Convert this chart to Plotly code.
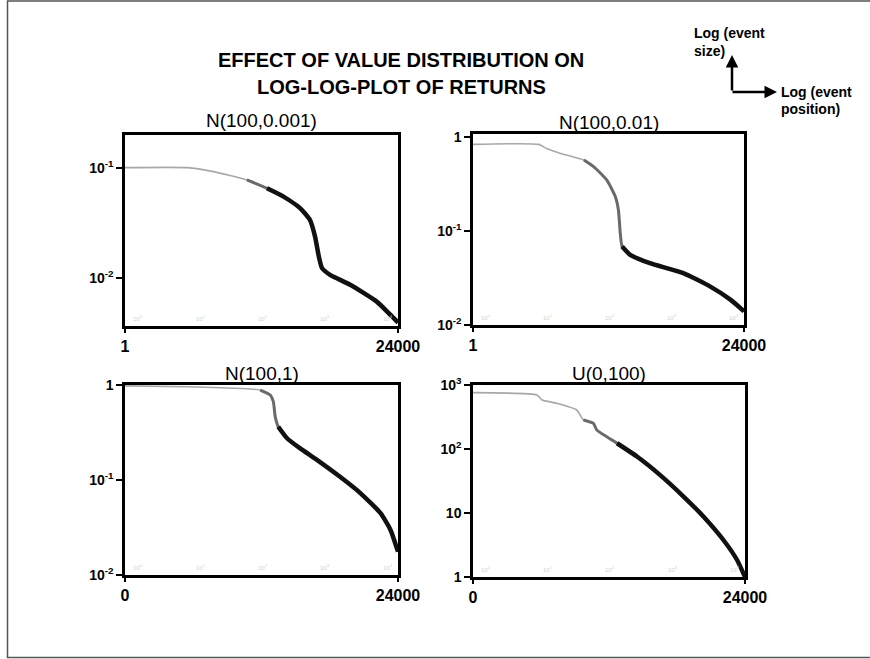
import plotly.graph_objects as go

# ---------------- data ----------------
titles = ["N(100,0.001)", "N(100,0.01)", "N(100,1)", "U(0,100)"]

rank_a = [1, 10, 26, 90, 190, 350, 650, 930, 1120, 1290, 1450, 1950, 4170, 10960, 18200, 24000]
size_a = [0.100, 0.100, 0.092, 0.0773, 0.0649, 0.0545, 0.0427, 0.0334, 0.0236, 0.0155,
          0.0122, 0.0106, 0.00857, 0.00605, 0.00458, 0.0039]

rank_b = [1, 11.5, 15.5, 26, 62, 89, 145, 200, 224, 240, 257, 347, 724, 2510, 6760, 14450, 24000]
size_b = [0.83, 0.83, 0.751, 0.665, 0.566, 0.481, 0.348, 0.231, 0.167, 0.0944, 0.0682,
          0.0557, 0.0454, 0.0356, 0.0257, 0.0186, 0.014]

rank_c = [1, 10, 71, 148, 214, 240, 257, 288, 398, 646, 1200, 2820, 6030, 12600, 18200, 24000]
size_c = [0.98, 0.96, 0.92, 0.885, 0.785, 0.668, 0.465, 0.364, 0.275, 0.215, 0.163,
          0.108, 0.0724, 0.0447, 0.0298, 0.0176]

rank_d = [1, 10.7, 12.9, 22.4, 46.8, 60, 87, 98, 209, 437, 1023, 2455, 5130, 10700, 17800, 24000]
size_d = [759, 698, 583, 518, 407, 284, 252, 199, 123, 76.2, 39.4, 18.1, 8.83, 3.82, 1.86, 1.0]

y_tickvals = [[0.1, 0.01], [1, 0.1, 0.01], [1, 0.1, 0.01], [1000, 100, 10, 1]]
y_ticktext = [["10<sup>-1</sup>", "10<sup>-2</sup>"],
              ["1", "10<sup>-1</sup>", "10<sup>-2</sup>"],
              ["1", "10<sup>-1</sup>", "10<sup>-2</sup>"],
              ["10<sup>3</sup>", "10<sup>2</sup>", "10", "1"]]
x_tickvals = [1, 24000]
x_ticktext = [["1", "24000"], ["1", "24000"], ["0", "24000"], ["0", "24000"]]
minor_labels = ["10<sup>0</sup>", "10<sup>1</sup>", "10<sup>2</sup>", "10<sup>3</sup>", "10<sup>4</sup>"]

# ---------------- styling / layout ----------------
W, H = 870, 659
FONT = "Liberation Sans, Arial, sans-serif"

series = [(rank_a, size_a), (rank_b, size_b), (rank_c, size_c), (rank_d, size_d)]
# where the plotted curve becomes denser (darker / thicker)
medium_from = [90, 62, 148, 60]
dark_from = [190, 257, 288, 209]

# panel boxes in pixels: (left, right, top, bottom)
boxes = [(125, 398, 135, 326), (473, 744, 134, 325), (125, 398, 385, 575), (473, 745, 385, 577)]
y_ranges = [[-2.44, -0.703], [-2.0, 0.029], [-2.0, 0.0], [0.0, 3.0]]
x_range = [0, 4.3802]
title_y = [120, 122, 373, 373]

fig = go.Figure()
layout = dict(
    width=W, height=H, autosize=False,
    margin=dict(l=0, r=0, t=0, b=0, autoexpand=False),
    paper_bgcolor="white", plot_bgcolor="white",
    showlegend=False,
    font=dict(family=FONT, color="black"),
)
annotations = []
shapes = []

for i, ((rk, sz), box) in enumerate(zip(series, boxes)):
    n = i + 1
    xa = "x" if n == 1 else f"x{n}"
    ya = "y" if n == 1 else f"y{n}"
    fig.add_trace(go.Scatter(x=rk, y=sz, mode="lines", xaxis=xa, yaxis=ya,
                             line=dict(color="#a8a8a8", width=1.6, shape="spline",
                                       smoothing=0.5),
                             hoverinfo="skip"))
    m = [(r, s) for r, s in zip(rk, sz) if r >= medium_from[i]]
    fig.add_trace(go.Scatter(x=[p[0] for p in m], y=[p[1] for p in m], mode="lines",
                             xaxis=xa, yaxis=ya,
                             line=dict(color="#6a6a6a", width=3, shape="spline",
                                       smoothing=0.5),
                             hoverinfo="skip"))
    d = [(r, s) for r, s in zip(rk, sz) if r >= dark_from[i]]
    fig.add_trace(go.Scatter(x=[p[0] for p in d], y=[p[1] for p in d], mode="lines",
                             xaxis=xa, yaxis=ya,
                             line=dict(color="#111111", width=4.5, shape="spline",
                                       smoothing=0.5),
                             hoverinfo="skip"))

    l, r, t, b = box
    xdom = [l / W, r / W]
    ydom = [1 - b / H, 1 - t / H]
    axis_common = dict(showline=True, linecolor="black", linewidth=2.5, mirror=True,
                       showgrid=False, zeroline=False, ticks="outside",
                       tickcolor="black", tickwidth=2, automargin=False)
    layout["xaxis" if n == 1 else f"xaxis{n}"] = dict(
        axis_common, type="log", range=x_range, domain=xdom,
        anchor=ya, tickvals=x_tickvals, ticktext=x_ticktext[i], ticklen=4,
        tickfont=dict(family=FONT, size=16, weight="bold", color="black"))
    layout["yaxis" if n == 1 else f"yaxis{n}"] = dict(
        axis_common, type="log", range=y_ranges[i], domain=ydom,
        anchor=xa, tickvals=y_tickvals[i], ticktext=y_ticktext[i], ticklen=6,
        tickfont=dict(family=FONT, size=14, weight="bold", color="black"))

    # panel title
    annotations.append(dict(text=titles[i], x=(l + r) / 2 / W, y=1 - title_y[i] / H,
                            xref="paper", yref="paper", showarrow=False,
                            xanchor="center", yanchor="middle",
                            font=dict(family=FONT, size=19, color="black")))
    # faint decade labels along the bottom edge
    for k, lab in enumerate(minor_labels):
        annotations.append(dict(text=lab, x=k + 0.1, y=0.012, xref=xa,
                                yref=f"{ya} domain", showarrow=False,
                                xanchor="left", yanchor="bottom",
                                font=dict(family=FONT, size=6, color="#d2d2d2")))

# main title
for txt, py in [("EFFECT OF VALUE DISTRIBUTION ON", 60), ("LOG-LOG-PLOT OF RETURNS", 87)]:
    annotations.append(dict(text=f"<b>{txt}</b>", x=401 / W, y=1 - py / H,
                            xref="paper", yref="paper", showarrow=False,
                            xanchor="center", yanchor="middle",
                            font=dict(family=FONT, size=20, color="black")))

# axes sketch at top right
for txt, px, py in [("Log (event", 692, 33), ("size)", 692, 51),
                    ("Log (event", 779, 92), ("position)", 779, 109)]:
    annotations.append(dict(text=f"<b>{txt}</b>", x=px / W, y=1 - py / H,
                            xref="paper", yref="paper", showarrow=False,
                            xanchor="left", yanchor="middle",
                            font=dict(family=FONT, size=14, color="black")))
annotations.append(dict(text="", x=732 / W, y=1 - 55 / H, xref="paper", yref="paper",
                        showarrow=True, ax=0, ay=37, arrowhead=2, arrowsize=1,
                        arrowwidth=2.5, arrowcolor="black"))
annotations.append(dict(text="", x=777 / W, y=1 - 92 / H, xref="paper", yref="paper",
                        showarrow=True, ax=-46, ay=0, arrowhead=2, arrowsize=1,
                        arrowwidth=2.5, arrowcolor="black"))

# slide frame
shapes.append(dict(type="rect", xref="paper", yref="paper",
                   x0=7.5 / W, x1=1.02, y0=1 - 657.5 / H, y1=1 - 1 / H,
                   line=dict(color="#555555", width=1.5), fillcolor="rgba(0,0,0,0)"))

layout["annotations"] = annotations
layout["shapes"] = shapes
fig.update_layout(**layout)

page_css = (
    "document.documentElement.style.margin='0';document.body.style.margin='0';"
    "document.documentElement.style.overflow='hidden';document.body.style.overflow='hidden';"
)
fig.write_html("out.html", config={"displayModeBar": False}, post_script=page_css)
